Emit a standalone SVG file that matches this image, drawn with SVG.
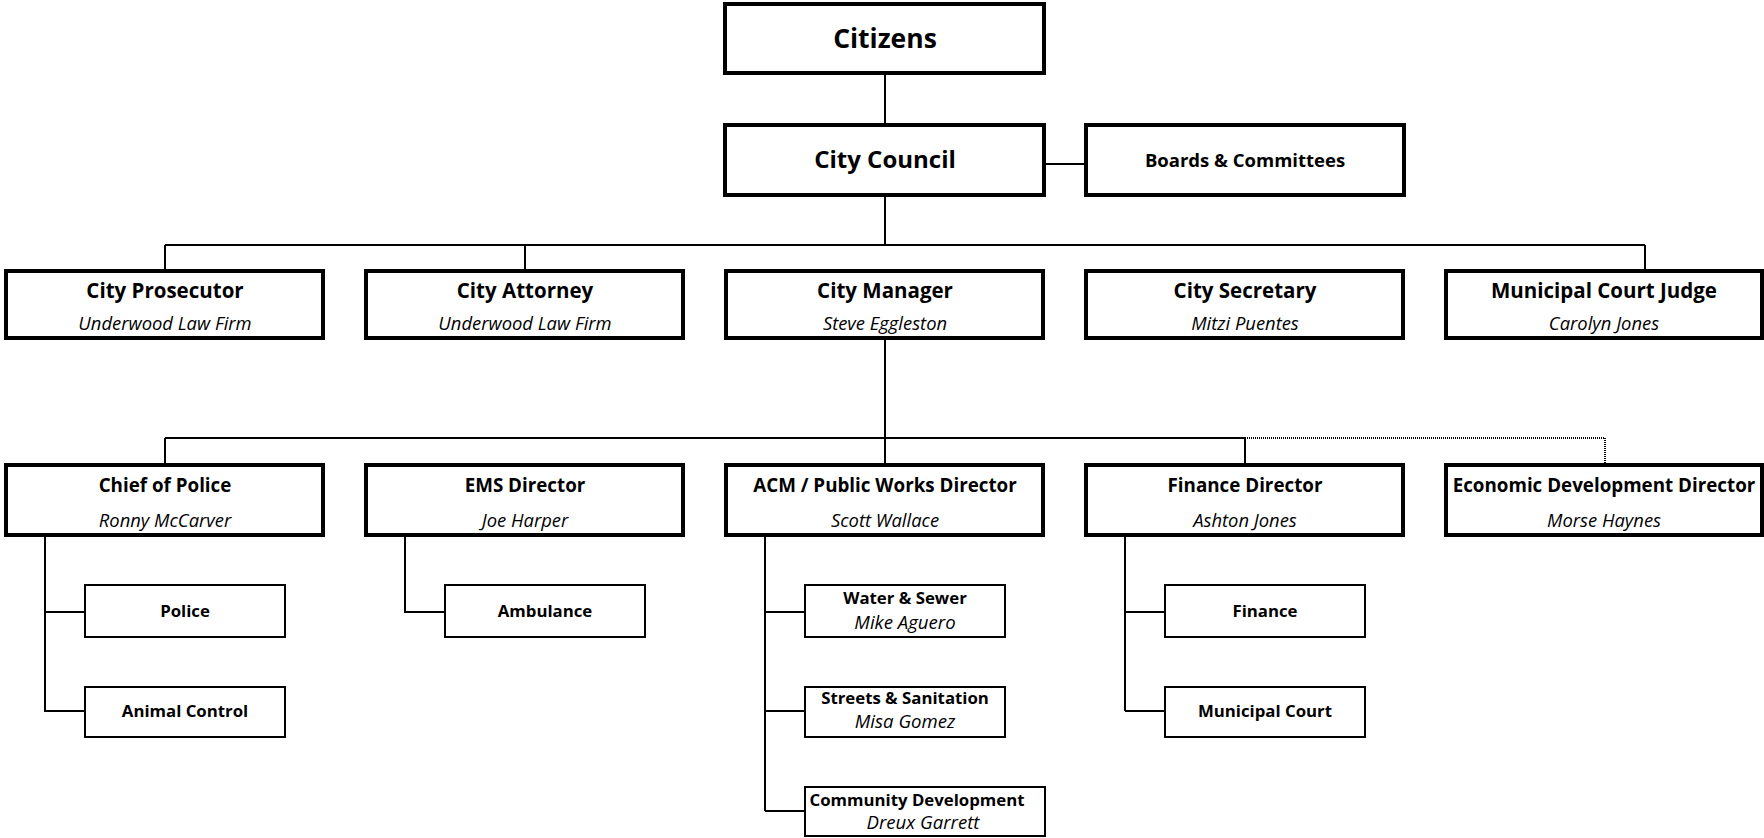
<svg xmlns="http://www.w3.org/2000/svg" width="1764" height="838" viewBox="0 0 1764 838">
<style>
text{font-family:"Open Sans","Noto Sans",sans-serif;fill:#000;text-anchor:middle}
.big{stroke:#000;stroke-width:4;fill:#fff}
.sub{stroke:#000;stroke-width:2;fill:#fff}
.c{stroke:#000;stroke-width:2;fill:none}
.dot{stroke:#000;stroke-width:2;fill:none;stroke-dasharray:1 1}
.t1{font-weight:bold;font-size:26.5px}
.t2{font-weight:bold;font-size:24px}
.tb{font-weight:bold;font-size:18.5px}
.th{font-weight:bold;font-size:20.5px}
.tm{font-weight:bold;font-size:18.8px}
.it{font-style:italic;font-size:18.4px}
.ts{font-weight:bold;font-size:16.8px}
.is{font-style:italic;font-size:18.6px}
</style>
<rect width="1764" height="838" fill="#fff"/>
<g id="connectors">
<path class="c" d="M885 75V125M1046 164H1084M885 197V245M165 245H1645M165 245V269M525 245V269M1645 245V269M885 340V463M165 438H1245M165 438V463M1245 438V463"/>
<path class="dot" d="M1245 438H1605V463"/>
<path class="c" d="M45 537V712M45 612H85M45 711H85M405 537V612H445M765 537V811M765 612H804M765 711H804M765 811H804M1125 537V711M1125 612H1164M1125 711H1164"/>
</g>
<g id="citizens"><rect class="big" x="725" y="4" width="319" height="69"/><text class="t1" x="885" y="48">Citizens</text></g>
<g id="council"><rect class="big" x="725" y="125" width="319" height="70"/><text class="t2" x="885" y="168">City Council</text></g>
<g id="boards"><rect class="big" x="1086" y="125" width="318" height="70"/><text class="tb" x="1245" y="167">Boards &amp; Committees</text></g>
<g id="prosecutor"><rect class="big" x="6" y="271" width="317" height="67"/><text class="th" x="165" y="298">City Prosecutor</text><text class="it" x="165" y="330">Underwood Law Firm</text></g>
<g id="attorney"><rect class="big" x="366" y="271" width="317" height="67"/><text class="th" x="525" y="298">City Attorney</text><text class="it" x="525" y="330">Underwood Law Firm</text></g>
<g id="manager"><rect class="big" x="726" y="271" width="317" height="67"/><text class="th" x="885" y="298">City Manager</text><text class="it" x="885" y="330">Steve Eggleston</text></g>
<g id="secretary"><rect class="big" x="1086" y="271" width="317" height="67"/><text class="th" x="1245" y="298">City Secretary</text><text class="it" x="1245" y="330">Mitzi Puentes</text></g>
<g id="judge"><rect class="big" x="1446" y="271" width="316" height="67"/><text class="th" x="1604" y="298">Municipal Court Judge</text><text class="it" x="1604" y="330">Carolyn Jones</text></g>
<g id="police-chief"><rect class="big" x="6" y="465" width="317" height="70"/><text class="tm" x="165" y="492">Chief of Police</text><text class="it" x="165" y="527">Ronny McCarver</text></g>
<g id="ems"><rect class="big" x="366" y="465" width="317" height="70"/><text class="tm" x="525" y="492">EMS Director</text><text class="it" x="525" y="527">Joe Harper</text></g>
<g id="acm"><rect class="big" x="726" y="465" width="317" height="70"/><text class="tm" x="885" y="492">ACM / Public Works Director</text><text class="it" x="885" y="527">Scott Wallace</text></g>
<g id="finance-dir"><rect class="big" x="1086" y="465" width="317" height="70"/><text class="tm" x="1245" y="492">Finance Director</text><text class="it" x="1245" y="527">Ashton Jones</text></g>
<g id="econ"><rect class="big" x="1446" y="465" width="316" height="70"/><text class="tm" x="1604" y="492">Economic Development Director</text><text class="it" x="1604" y="527">Morse Haynes</text></g>
<g id="police"><rect class="sub" x="85" y="585" width="200" height="52"/><text class="ts" x="185" y="617">Police</text></g>
<g id="animal"><rect class="sub" x="85" y="687" width="200" height="50"/><text class="ts" x="185" y="717">Animal Control</text></g>
<g id="ambulance"><rect class="sub" x="445" y="585" width="200" height="52"/><text class="ts" x="545" y="617">Ambulance</text></g>
<g id="water"><rect class="sub" x="805" y="585" width="200" height="52"/><text class="ts" x="905" y="604">Water &amp; Sewer</text><text class="is" x="905" y="629">Mike Aguero</text></g>
<g id="streets"><rect class="sub" x="805" y="687" width="200" height="50"/><text class="ts" x="905" y="704">Streets &amp; Sanitation</text><text class="is" x="905" y="728">Misa Gomez</text></g>
<g id="community"><rect class="sub" x="805" y="787" width="240" height="49"/><text class="ts" x="917" y="806">Community Development</text><text class="is" x="923" y="829">Dreux Garrett</text></g>
<g id="finance"><rect class="sub" x="1165" y="585" width="200" height="52"/><text class="ts" x="1265" y="617">Finance</text></g>
<g id="court"><rect class="sub" x="1165" y="687" width="200" height="50"/><text class="ts" x="1265" y="717">Municipal Court</text></g>
</svg>
